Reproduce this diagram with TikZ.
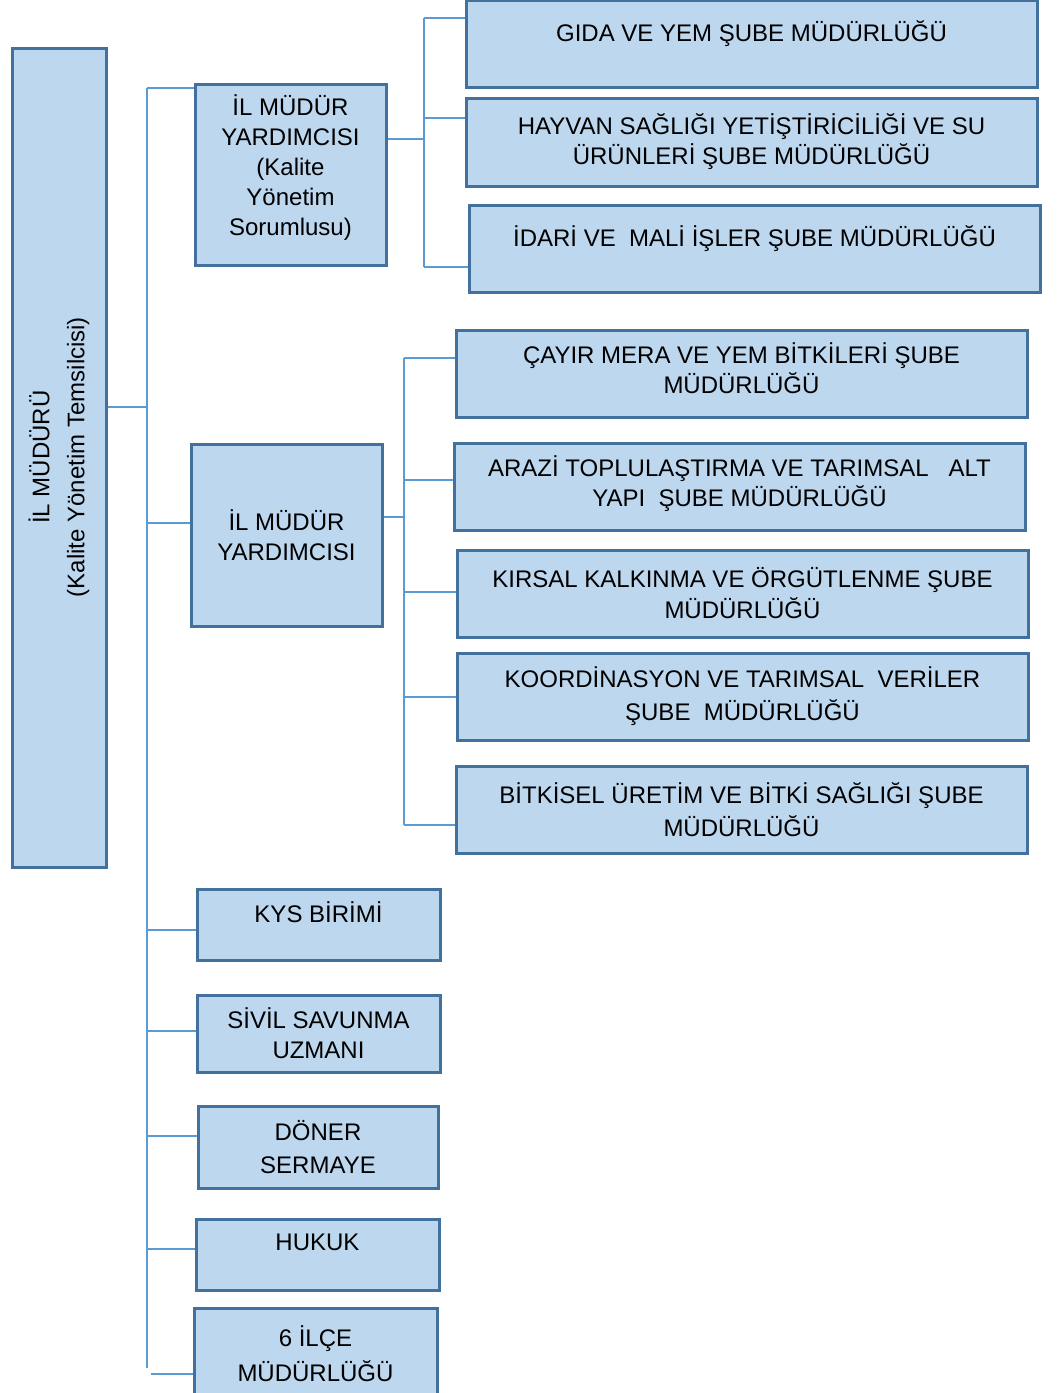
\documentclass[tikz,border=0pt]{standalone}
\usepackage{fontspec}
\setmainfont{Liberation Sans}
\definecolor{boxfill}{HTML}{BDD7EE}
\definecolor{boxline}{HTML}{41719C}
\definecolor{linkline}{HTML}{5B9BD5}
\begin{document}
\begin{tikzpicture}[
    x=0.5pt, y=-0.5pt,
    unit/.style={draw=boxline, fill=boxfill, line width=1.5pt, inner sep=0pt,
        align=center, font=\fontsize{12}{15}\selectfont},
    wide/.style={unit, minimum width=285.5pt, minimum height=43.5pt},
    small/.style={unit, minimum width=121.5pt},
    toptext/.style={text depth=12pt},
    link/.style={draw=linkline, line width=0.75pt}
]
\useasboundingbox (0,0) rectangle (1061,1393);

% Il Muduru
\node[unit, minimum width=47pt, minimum height=409.5pt] (mudur) at (59,457.5) {};
\node[rotate=90, align=center, font=\fontsize{12}{17.5}\selectfont] (mudurtxt) at (59,457)
    {İL MÜDÜRÜ\\(Kalite Yönetim Temsilcisi)};

% Mudur yardimcilari
\node[unit, minimum width=95.5pt, minimum height=90.5pt, text depth=9pt] (yrd1) at (290.5,174.5)
    {İL MÜDÜR\\YARDIMCISI\\(Kalite\\Yönetim\\Sorumlusu)};
\node[unit, minimum width=95.5pt, minimum height=91pt] (yrd2) at (286.5,535)
    {İL MÜDÜR\\YARDIMCISI};

% Sube mudurlukleri (1)
\node[wide, toptext] (g1) at (751.5,43.5) {GIDA VE YEM ŞUBE MÜDÜRLÜĞÜ};
\node[wide, minimum height=44pt] (g2) at (751.5,142)
    {HAYVAN SAĞLIĞI YETİŞTİRİCİLİĞİ VE SU\\ÜRÜNLERİ ŞUBE MÜDÜRLÜĞÜ};
\node[wide, toptext] (g3) at (754.5,248.5) {İDARİ VE\ \ MALİ İŞLER ŞUBE MÜDÜRLÜĞÜ};

% Sube mudurlukleri (2)
\node[wide, text depth=5pt] (h1) at (741.5,373.5) {ÇAYIR MERA VE YEM BİTKİLERİ ŞUBE\\MÜDÜRLÜĞÜ};
\node[wide, text depth=5pt] (h2) at (739.5,486.5) {ARAZİ TOPLULAŞTIRMA VE TARIMSAL\ \ \ ALT\\YAPI\ \ ŞUBE MÜDÜRLÜĞÜ};
\node[wide, font=\fontsize{12}{15.5}\selectfont] (h3) at (742.5,593.5) {KIRSAL KALKINMA VE ÖRGÜTLENME ŞUBE\\MÜDÜRLÜĞÜ};
\node[wide, font=\fontsize{12}{16.5}\selectfont] (h4) at (742.5,696.5) {KOORDİNASYON VE TARIMSAL\ \ VERİLER\\ŞUBE\ \ MÜDÜRLÜĞÜ};
\node[wide, font=\fontsize{12}{16.5}\selectfont] (h5) at (741.5,809.5) {BİTKİSEL ÜRETİM VE BİTKİ SAĞLIĞI ŞUBE\\MÜDÜRLÜĞÜ};

% Birimler
\node[small, toptext, minimum height=35.5pt] (k1) at (318.5,924.5) {KYS BİRİMİ};
\node[small, minimum height=38.5pt] (k2) at (318.5,1033.5) {SİVİL SAVUNMA\\UZMANI};
\node[small, minimum width=120pt, minimum height=41pt,
    font=\fontsize{12}{16.5}\selectfont] (k3) at (318,1147) {DÖNER\\SERMAYE};
\node[small, toptext, minimum height=35.5pt] (k4) at (317.5,1254.5) {HUKUK};
\node[small, minimum height=46pt, font=\fontsize{12}{17.5}\selectfont] (k5) at (315.5,1354) {6 İLÇE\\MÜDÜRLÜĞÜ};

% Connections
\draw[link] (mudur.east |- 0,407) -- (147,407);
\draw[link] (147,88) -- (147,1368);
\foreach \n/\y in {yrd1/88, yrd2/523, k1/930, k2/1031, k3/1136, k4/1249} {
    \draw[link] (147,\y) -- (\n.west |- 0,\y);
}
\draw[link] (151,1374) -- (k5.west |- 0,1374);

\draw[link] (yrd1.east |- 0,139) -- (424,139);
\draw[link] (424,18) -- (424,267);
\foreach \n/\y in {g1/18, g2/118, g3/267} {
    \draw[link] (424,\y) -- (\n.west |- 0,\y);
}

\draw[link] (yrd2.east |- 0,517) -- (404,517);
\draw[link] (404,358) -- (404,825);
\foreach \n/\y in {h1/358, h2/480, h3/592, h4/697, h5/825} {
    \draw[link] (404,\y) -- (\n.west |- 0,\y);
}
\end{tikzpicture}
\end{document}
